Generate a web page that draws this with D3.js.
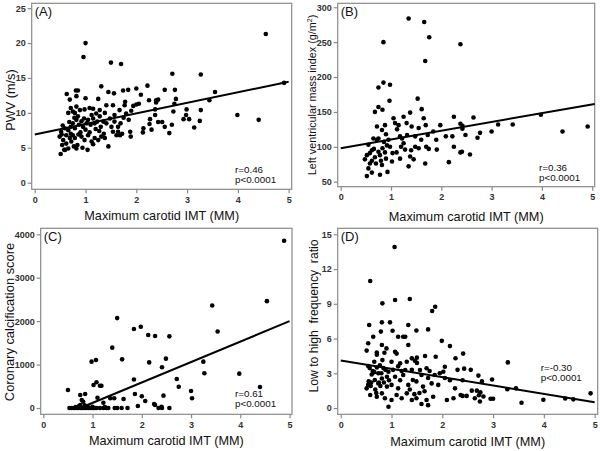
<!DOCTYPE html>
<html><head><meta charset="utf-8">
<script src="https://cdn.jsdelivr.net/npm/d3@7"></script>
<style>
html,body{margin:0;padding:0;background:#fff;}
svg{display:block;font-family:"Liberation Sans",Arial,sans-serif;}
</style>
</head><body>
<svg id="c" width="600" height="451"></svg>
<script>
// ---------------- DATA ----------------
const xTicks = [0, 1, 2, 3, 4, 5];
const xTitle = "Maximum carotid IMT (MM)";

// (A) PWV
const pwvTicks = [0, 5, 10, 15, 20, 25];
const pwvStats = ["r=0.46", "p<0.0001"];
const pwvFit = [[0, 6.9], [5, 14.45]];
const pwvPoints = [
[1.0,20.0],[0.96,18.0],[1.5,17.2],[1.7,17.0],[4.55,21.3],[3.27,15.5],[2.71,15.6],[3.55,13.0],[3.44,11.8],[3.99,9.7],
[4.41,9.0],[2.99,10.5],[3.27,10.4],[3.14,7.9],[3.25,8.85],[2.93,9.1],[2.98,9.7],[3.04,9.1],[2.78,12.0],[2.76,13.3],
[2.56,13.3],[2.75,11.3],[2.73,10.2],[2.70,8.3],[2.65,7.1],[2.56,8.0],[2.43,8.7],[2.51,8.7],[2.43,11.9],[2.39,11.8],
[2.25,11.8],[2.39,11.5],[2.22,13.9],[2.37,10.5],[2.37,9.7],[2.27,9.1],[2.26,8.4],[2.30,7.6],[2.14,7.8],[2.13,7.2],
[2.0,11.2],[2.05,11.3],[2.0,13.5],[2.09,12.6],[1.84,13.3],[1.74,13.2],[1.78,11.6],[1.88,7.3],[1.89,6.6],[1.68,6.8],
[1.61,6.8],[1.45,5.2],[1.45,13.0],[1.56,12.8],[1.31,13.8],[1.25,12.0],[1.0,12.1],[0.81,13.2],[0.85,13.2],[0.63,12.7],
[0.82,12.4],[0.69,11.9],[1.04,4.7],[0.51,4.1],[0.60,4.7],[4.91,14.3],
[0.71,10.7],[0.75,10.2],[0.79,10.0],[0.89,10.4],[0.98,10.5],[1.08,10.7],[1.28,10.4],[1.41,11.1],[1.38,10.0],[1.54,11.1],
[1.57,9.7],[1.67,10.4],[1.77,11.1],[1.80,9.9],[1.94,11.0],[1.90,10.3],[0.66,10.0],[0.82,10.9],[1.15,10.6],[1.21,9.9],
[0.52,7.3],[0.59,7.8],[0.66,7.5],[0.62,6.8],[0.71,8.0],[0.75,8.5],[0.79,7.8],[0.82,9.0],[0.87,8.3],[0.92,8.8],
[0.95,8.0],[1.02,8.5],[1.05,9.0],[1.10,8.3],[1.15,9.2],[1.18,8.5],[1.23,8.75],[1.28,9.5],[1.35,8.75],[1.41,8.5],
[1.48,9.2],[1.51,8.0],[1.57,8.75],[1.64,8.0],[1.69,8.5],[1.54,7.3],[1.64,7.3],[1.72,7.0],[0.55,8.2],[0.68,8.7],
[0.85,9.5],[0.78,9.3],[0.97,9.2],[1.12,9.7],[1.30,8.0],[1.20,7.7],[1.00,7.6],[0.90,7.2],[1.75,9.3],[1.85,9.0],
[0.49,6.6],[0.56,6.1],[0.62,5.6],[0.69,6.4],[0.72,5.9],[0.79,6.4],[0.84,5.4],[0.77,5.2],[0.66,4.9],[0.58,4.7],
[0.92,6.6],[0.98,6.1],[1.05,6.8],[1.12,5.9],[1.18,6.4],[1.25,6.1],[1.31,6.6],[0.82,4.9],[1.38,6.4],[0.54,5.4],
[0.71,7.0],[0.86,6.9],[1.08,7.2],[1.15,5.5],[0.94,5.0],[0.53,6.9],[0.75,6.8],[1.27,7.4],[1.36,7.0]
];

// (B) Left ventricular mass index
const lvmiTicks = [50, 100, 150, 200, 250, 300];
const lvmiStats = ["r=0.36", "p<0.0001"];
const lvmiFit = [[0, 98], [5.05, 161.5]];
const lvmiPoints = [
[1.35,284],[1.66,279],[1.76,257],[0.85,250],[2.38,247],[1.68,223],[0.85,192],[0.98,189],[0.75,185],[0.97,166],
[1.53,169],[0.75,157],[0.83,153],[0.68,150],[1.38,149],[1.61,154],[1.65,141],[1.69,131],[2.25,143],[2.64,142],
[3.42,132],[3.13,132],[3.0,122],[3.98,146],[4.41,122],[4.91,129],[2.38,133],[2.42,130],[2.42,126],[2.48,117],
[2.77,120],[2.72,113],[2.57,89],[2.38,92],[2.41,93],[2.25,100],[2.22,115],[2.09,115],[2.15,78],[1.98,131],
[1.84,122],[1.90,110],[1.91,96],[1.70,100],[1.73,117],[1.68,76],[1.55,98],[1.48,100],[1.48,115],[1.41,129],
[1.31,134],[1.25,143],[1.15,131],[1.05,141],[1.08,134],[1.18,115],[1.25,105],[1.32,117],[1.38,86],[1.35,72],
[1.18,83],[1.11,92],[1.20,100],[1.28,96],[0.88,131],[0.72,129],[0.82,124],[0.90,118],[0.95,110],[0.98,100],
[1.03,91],[1.02,79],[0.93,64],[0.78,60],[0.62,63],[0.52,58],[0.55,69],[0.48,82],[0.58,91],[0.55,103],
[0.66,97],[0.75,93],[0.78,88],[0.83,98],[0.88,92],[0.70,76],[0.82,74],[0.62,80],[0.52,88],[0.58,76],
[0.68,85],[0.72,110],[0.62,95],[0.90,83],[0.80,80],[0.75,112],[0.86,107],[1.12,125],[1.22,112],[1.40,95],
[1.60,110],[1.55,127],[1.75,97],[1.45,82],[0.65,112],[0.92,102]
];

// (C) Coronary calcification score
const cacTicks = [0, 1000, 2000, 3000, 4000];
const cacStats = ["r=0.61", "p<0.0001"];
const cacFit = [[0.75, 0], [5, 2000]];
const cacPoints = [
[4.89,3850],[4.54,2460],[3.43,2360],[3.54,1760],[1.50,2070],[1.98,1870],[1.84,1820],[2.13,1681],[2.27,1658],[2.56,1650],
[1.40,1390],[1.60,1120],[1.07,1105],[0.98,1067],[2.15,1050],[2.49,1136],[3.25,1067],[3.27,800],[3.98,791],[2.41,937],
[2.71,668],[1.84,655],[4.40,484],[2.75,491],[1.08,592],[1.02,530],[1.15,514],[1.18,514],[3.0,392],[3.02,223],
[2.0,269],[2.07,161],[1.86,322],[2.44,284],[1.63,207],[1.44,223],[1.36,223],[0.50,414],[0.75,300],[0.85,322],
[0.78,184],[0.81,145],[1.10,237],[1.22,122],[0.75,69],[2.27,69],[1.92,46],[2.40,30],[2.25,90],[2.34,0],
[2.41,0],[2.56,0],[1.50,0],[1.59,0],[1.71,0],[1.32,0],[1.22,0],[1.15,0],[1.08,0],[1.02,0],
[0.95,0],[0.88,0],[0.81,0],[0.75,0],[0.68,0],[0.61,0],[0.53,0],[0.57,0],[0.64,0],[0.71,0],
[0.78,0],[0.85,0],[0.92,0],[0.99,0],[1.05,0],[1.28,0],[0.72,40],[0.90,30],[1.25,20],[0.66,20],
[1.45,0],[0.84,60],[1.00,25]
];

// (D) Low to high frequency ratio
const lfhfTicks = [0, 3, 6, 9, 12, 15];
const lfhfStats = ["r=-0.30", "p<0.0001"];
const lfhfFit = [[0, 4.1], [5, 0.5]];
const lfhfPoints = [
[1.06,13.9],[0.58,10.97],[0.82,9.04],[1.07,9.33],[1.36,9.41],[1.86,8.75],[1.80,8.38],[0.56,7.17],[0.81,7.4],[0.97,7.4],
[1.33,7.17],[1.72,6.79],[1.49,6.7],[1.02,6.67],[1.23,6.16],[1.27,6.16],[1.13,6.16],[0.64,6.16],[0.79,6.6],[1.99,5.8],
[0.54,5.59],[2.15,5.35],[0.81,5.44],[1.33,5.44],[0.90,5.15],[0.51,4.96],[0.71,4.8],[0.86,4.78],[1.07,4.86],[1.10,4.7],
[0.71,4.6],[1.40,4.29],[1.50,4.35],[1.46,4.09],[1.66,4.49],[1.87,4.43],[1.30,4.0],[1.17,3.86],[1.00,4.0],[0.82,4.14],
[0.66,4.0],[0.54,3.63],[0.57,3.45],[0.71,3.5],[2.05,3.57],[2.02,3.14],[1.69,3.43],[1.56,3.28],[1.40,3.3],[1.27,3.28],
[1.13,3.6],[0.94,3.14],[0.84,3.45],[0.74,3.0],[0.61,2.9],[0.67,2.42],[0.81,2.55],[0.91,2.7],[1.07,2.7],[1.23,2.85],
[1.42,2.42],[1.59,2.85],[1.72,2.6],[1.85,2.85],[2.05,2.6],[0.54,2.0],[0.51,1.7],[0.74,2.13],[0.91,1.85],[1.0,2.0],
[1.13,1.7],[1.33,2.0],[1.49,2.3],[1.62,1.85],[1.79,2.13],[1.92,2.0],[0.58,1.12],[0.71,0.98],[0.81,1.27],[0.87,0.84],
[1.0,0.7],[1.10,1.12],[1.20,0.84],[1.30,1.27],[1.40,0.7],[1.49,0.84],[1.69,0.7],[1.82,0.98],[1.72,0.25],[0.94,0.11],
[2.09,0.69],[1.59,0.35],[2.26,4.3],[2.41,4.7],[2.30,3.3],[2.43,3.4],[2.56,3.3],[3.29,3.94],[2.71,2.8],[2.78,2.3],
[2.98,2.47],[2.15,2.4],[2.40,2.4],[2.25,1.7],[2.36,1.12],[2.40,1.05],[2.48,1.05],[2.58,1.5],[2.68,1.5],[2.72,1.1],
[2.75,1.35],[2.81,1.0],[2.95,0.8],[3.0,0.8],[2.22,0.85],[2.64,0.85],[2.74,0.57],[3.56,0.46],[3.99,0.72],[3.28,1.62],
[3.45,1.7],[4.42,0.83],[4.58,0.75],[4.92,1.27],
[0.55,2.3],[0.60,2.2],[0.63,3.2],[0.68,1.6],[0.75,2.2],[0.78,1.9],[0.80,3.0],[0.85,2.2],[0.88,3.3],[0.95,2.4],
[0.70,1.3],[0.77,3.7],[0.66,3.1],[0.59,1.9],[1.03,3.3],[1.17,2.4],[1.20,3.2],[1.36,1.6],[1.55,1.3],[1.65,1.45],
[1.75,3.2],[1.50,3.9],[1.45,1.2],[1.95,3.0]
];

// ---------------- DRAWING ----------------
const svg = d3.select("#c");
const frameColor = "#8a8a8a";

function panel(o) {
  const x = d3.scaleLinear().domain(o.xd).range([o.l, o.r]);
  const y = d3.scaleLinear().domain(o.yd).range([o.b, o.t]);
  const g = svg.append("g");

  g.append("rect").attr("x", o.l).attr("y", o.t).attr("width", o.r - o.l).attr("height", o.b - o.t)
    .attr("fill", "none").attr("stroke", frameColor).attr("stroke-width", 1.2);

  const xa = g.append("g").attr("transform", `translate(0,${o.b})`)
    .call(d3.axisBottom(x).tickValues(xTicks).tickSize(4).tickPadding(3).tickFormat(d3.format("d")));
  const ya = g.append("g").attr("transform", `translate(${o.l},0)`)
    .call(d3.axisLeft(y).tickValues(o.yt).tickSize(4).tickPadding(2).tickFormat(d3.format("d")));
  [xa, ya].forEach(a => {
    a.select(".domain").remove();
    a.selectAll("line").attr("stroke", frameColor).attr("stroke-width", 1.2);
    a.selectAll("text").attr("fill", "#333").attr("font-size", 9).attr("font-weight", "bold")
      .attr("font-family", '"Liberation Sans",Arial,sans-serif');
  });

  g.append("g").selectAll("circle").data(o.pts).join("circle")
    .attr("cx", d => x(d[0])).attr("cy", d => y(d[1])).attr("r", 2.3).attr("fill", "#000");

  g.append("path").datum(o.fit)
    .attr("d", d3.line().x(d => x(d[0])).y(d => y(d[1])))
    .attr("stroke", "#000").attr("stroke-width", 2).attr("fill", "none");

  g.append("text").attr("x", o.l + 3).attr("y", o.t + 13).attr("font-size", 13).attr("fill", "#111").text(o.lab);

  // stats: two lines, stacked without overlap
  o.stats.forEach((s, i) => {
    g.append("text").attr("x", o.sx).attr("y", o.sy - 2.5 + i * 10.5)
      .attr("font-size", 9.8).attr("fill", "#111").text(s);
  });

  g.append("text").attr("x", (o.l + o.r) / 2).attr("y", o.xty).attr("text-anchor", "middle")
    .attr("font-size", 12.7).attr("fill", "#111").text(xTitle);

  const yt = g.append("text").attr("transform", `translate(${o.ytx},${o.yty}) rotate(-90)`)
    .attr("text-anchor", "middle").attr("font-size", o.ytf).attr("fill", "#111")
    .style("white-space", "pre");
  if (o.ysup) {
    yt.append("tspan").text(o.ylab);
    yt.append("tspan").attr("font-size", o.ytf * 0.65).attr("dy", -o.ytf * 0.4).text(o.ysup);
    yt.append("tspan").attr("dy", o.ytf * 0.4).text(")");
  } else {
    yt.text(o.ylab);
  }
}

panel({ l: 31.7, r: 291.7, t: 3.3, b: 189.3, xd: [-0.06, 5.06], yd: [-0.95, 25.7], yt: pwvTicks,
  pts: pwvPoints, fit: pwvFit, lab: "(A)", stats: pwvStats, sx: 235, sy: 175,
  xty: 220, ytx: 15, yty: 100, ytf: 12.7, ylab: "PWV (m/s)" });

panel({ l: 337.7, r: 594.7, t: 3.3, b: 186.7, xd: [-0.06, 5.05], yd: [42.8, 305.7], yt: lvmiTicks,
  pts: lvmiPoints, fit: lvmiFit, lab: "(B)", stats: lvmiStats, sx: 539, sy: 173.3,
  xty: 220.5, ytx: 316, yty: 95, ytf: 10.8, ylab: "Left ventricular mass index (g/m", ysup: "2" });

panel({ l: 40.7, r: 292, t: 228.3, b: 414.3, xd: [-0.053, 5.05], yd: [-145, 4138], yt: cacTicks,
  pts: cacPoints, fit: cacFit, lab: "(C)", stats: cacStats, sx: 235, sy: 399,
  xty: 445, ytx: 14, yty: 322, ytf: 12.9, ylab: "Coronary calcification score" });

panel({ l: 337.7, r: 597.7, t: 228.3, b: 414.3, xd: [-0.06, 5.06], yd: [-0.54, 15.52], yt: lfhfTicks,
  pts: lfhfPoints, fit: lfhfFit, lab: "(D)", stats: lfhfStats, sx: 540.7, sy: 373.3,
  xty: 445.5, ytx: 318, yty: 316, ytf: 12.2, ylab: "Low to high  frequency  ratio" });
</script>
</body></html>
